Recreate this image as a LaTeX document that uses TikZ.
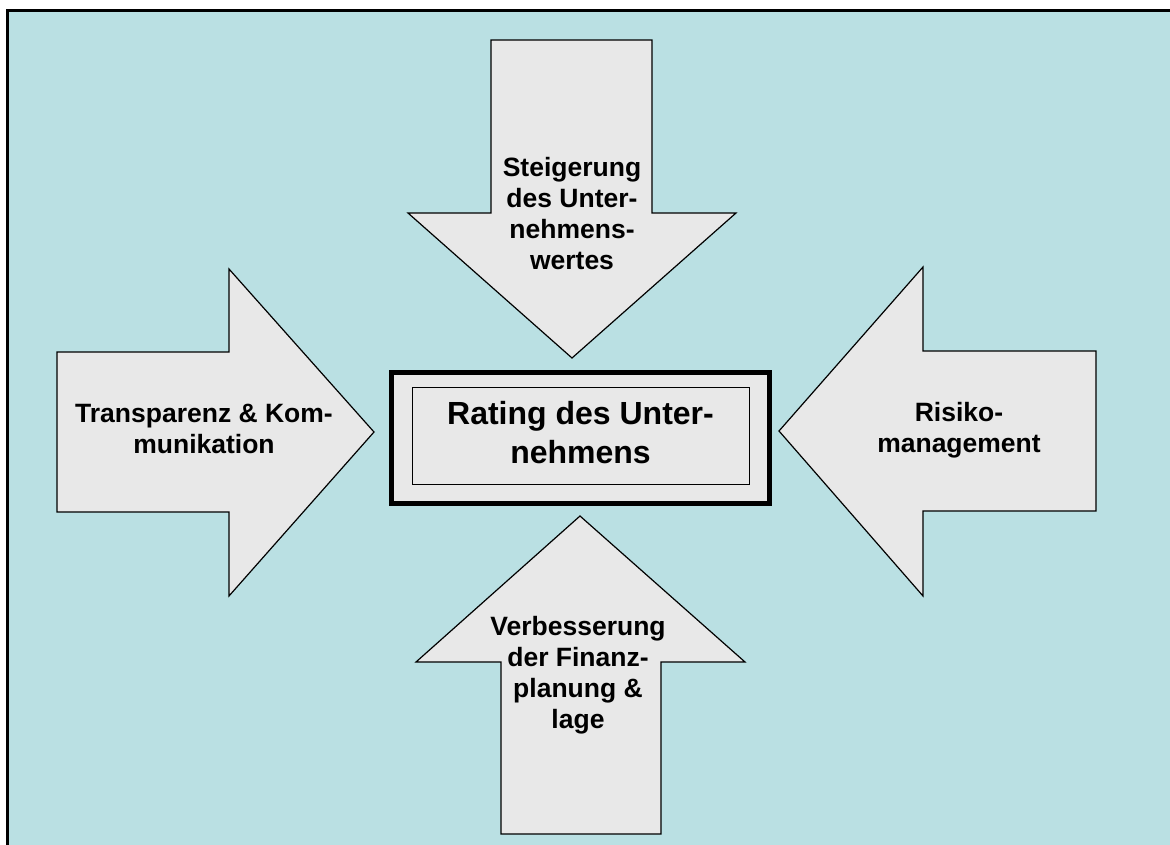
\documentclass[tikz,border=0pt]{standalone}
\usepackage{fontspec}
\setmainfont{Liberation Sans}
\definecolor{bgblue}{RGB}{186,224,227}
\definecolor{boxgray}{RGB}{232,232,232}
\begin{document}
\begin{tikzpicture}[x=1pt,y=-1pt,
  arrowshape/.style={fill=boxgray,draw=black,line width=1.2pt,line join=miter},
  arrowtext/.style={align=center,inner sep=0pt,font=\bfseries\fontsize{26.5}{31}\selectfont},
  centertext/.style={align=center,inner sep=0pt,font=\bfseries\fontsize{32}{39}\selectfont}]
\useasboundingbox (0,0) rectangle (1170,845);
\fill[white] (0,0) rectangle (1170,845);
\fill[bgblue] (7,11) rectangle (1175,850);
\draw[line width=3pt] (7,850) -- (7,11) -- (1175,11);
% top arrow (down)
\draw[arrowshape] (491,40) -- (652,40) -- (652,213) -- (736,213) -- (572,358) -- (408,213) -- (491,213) -- cycle;
% bottom arrow (up)
\draw[arrowshape] (501,834) -- (661,834) -- (661,662) -- (745,662) -- (580,516) -- (416,662) -- (501,662) -- cycle;
% left arrow (right)
\draw[arrowshape] (57,352) -- (229,352) -- (229,269) -- (374,432) -- (229,596) -- (229,512) -- (57,512) -- cycle;
% right arrow (left)
\draw[arrowshape] (1096,351) -- (923,351) -- (923,267) -- (779,431) -- (923,596) -- (923,511) -- (1096,511) -- cycle;
% center box
\draw[fill=boxgray,line width=5pt] (391,372) rectangle (769,503);
\draw[line width=1pt] (412,387) rectangle (749,484);
\node[centertext] (rating) at (580.5,433) {Rating des Unter-\\nehmens};
\node[arrowtext] (top) at (572,214) {Steigerung\\des Unter-\\nehmens-\\wertes};
\node[arrowtext] (bottom) at (578,675) {Verbesserung\\der Finanz-\\planung \&\\lage};
\node[arrowtext] (left) at (204,429) {Transparenz \& Kom-\\munikation};
\node[arrowtext] (right) at (959,430) {Risiko-\\management};
\end{tikzpicture}
\end{document}
